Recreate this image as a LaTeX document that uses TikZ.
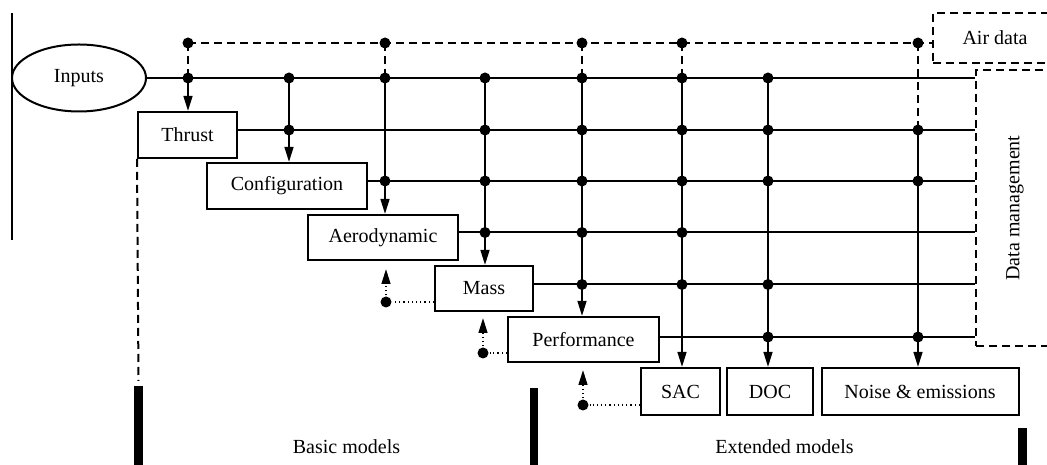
\documentclass[tikz,border=0pt]{standalone}
\usepackage{fontspec}
\setmainfont{Liberation Serif}
\usetikzlibrary{arrows.meta,shapes.geometric}
\begin{document}
\begin{tikzpicture}[x=0.5bp,y=-0.5bp,line width=1bp,
  font=\fontsize{10bp}{12bp}\selectfont,
  box/.style={draw,rectangle,inner sep=0pt},
  dot/.style={circle,fill,inner sep=0pt,minimum size=5.5bp},
  arr/.style={-{Triangle[length=7.5bp,width=4.4bp]}},
  dashline/.style={dash pattern=on 4bp off 2.5bp},
  dotline/.style={dash pattern=on 0.6bp off 1.5bp},
  bar/.style={fill=black,draw=none}]
\useasboundingbox (0,0) rectangle (1047,465);
\clip (0,0) rectangle (1047,465);

% rows and columns
\foreach \n/\y in {0/78,1/130,2/181,3/232.5,4/284.5,5/337}
  \coordinate (R\n) at (0,\y);
\coordinate (T) at (0,43);
\foreach \n/\x in {1/188,2/289,3/385,4/485,5/582,6/682,7/768,8/918}
  \coordinate (C\n) at (\x,0);

% left edge line
\draw[line width=0.6bp] (12,13) -- (12,240);

% nodes
\node[draw,ellipse,minimum width=67bp,minimum height=33.5bp,inner sep=0pt] (inputs) at (79,78) {Inputs};
\node[box,minimum width=49.5bp,minimum height=23bp] (thrust) at (187.5,135) {Thrust};
\node[box,minimum width=80bp,minimum height=23bp] (config) at (287,186) {Configuration};
\node[box,minimum width=75bp,minimum height=22.5bp] (aero) at (383,237.5) {Aerodynamic};
\node[box,minimum width=49bp,minimum height=22.5bp] (mass) at (484,288.5) {Mass};
\node[box,minimum width=75.5bp,minimum height=22.5bp] (perf) at (583.5,339.5) {Performance};
\node[box,minimum width=39.5bp,minimum height=23.5bp] (sac) at (680.5,391.5) {SAC};
\node[box,minimum width=43bp,minimum height=23.5bp] (doc) at (770,391.5) {DOC};
\node[box,minimum width=98.5bp,minimum height=23.5bp] (noise) at (920,391.5) {Noise \& emissions};
\node[box,dashline,minimum width=62bp,minimum height=25bp] (air) at (995,38) {Air data};
\node[box,dashline,minimum width=42bp,minimum height=138bp] (dm) at (1018,208) {};
\node[rotate=90] (dmtext) at (1015,208) {Data management};

% horizontal buses
\draw (inputs.east) -- (dm.west |- R0);
\draw (thrust.east |- R1) -- (dm.west |- R1);
\draw (config.east |- R2) -- (dm.west |- R2);
\draw (aero.east |- R3) -- (dm.west |- R3);
\draw (mass.east |- R4) -- (dm.west |- R4);
\draw (perf.east |- R5) -- (dm.west |- R5);

% vertical feeds
\draw[arr] (C1 |- R0) -- (C1 |- thrust.north);
\draw[arr] (C2 |- R0) -- (C2 |- config.north);
\draw[arr] (C3 |- R0) -- (C3 |- aero.north);
\draw[arr] (C4 |- R0) -- (C4 |- mass.north);
\draw[arr] (C5 |- R0) -- (C5 |- perf.north);
\draw[arr] (C6 |- R0) -- (C6 |- sac.north);
\draw[arr] (C7 |- R0) -- (C7 |- doc.north);
\draw[arr] (C8 |- R1) -- (C8 |- noise.north);

% air data lines
\draw[dashline] (C1 |- T) -- (air.west |- T);
\foreach \c in {1,3,5,6} \draw[dashline] (C\c |- T) -- (C\c |- R0);
\draw[dashline] (C8 |- T) -- (C8 |- R1);

% junction dots
\foreach \c in {1,3,5,6,8} \node[dot] at (C\c |- T) {};
\foreach \c in {1,2,3,4,5,6,7} \node[dot] at (C\c |- R0) {};
\foreach \c in {2,4,5,6,7,8} \node[dot] at (C\c |- R1) {};
\foreach \c in {3,4,5,6,7,8} \node[dot] at (C\c |- R2) {};
\foreach \c in {4,5,6} \node[dot] at (C\c |- R3) {};
\foreach \c in {5,6,7} \node[dot] at (C\c |- R4) {};
\foreach \c in {7,8} \node[dot] at (C\c |- R5) {};

% feedback (dotted)
\node[dot] (f1) at (386,302) {};
\coordinate (f1t) at (386,269);
\draw[dotline] (mass.west |- f1) -- (f1);
\draw[dotline,arr] (f1) -- (f1t);
\node[dot] (f2) at (483,353) {};
\coordinate (f2t) at (483,318);
\draw[dotline] (perf.west |- f2) -- (f2);
\draw[dotline,arr] (f2) -- (f2t);
\node[dot] (f3) at (583,405) {};
\coordinate (f3t) at (583,370);
\draw[dotline] (sac.west |- f3) -- (f3);
\draw[dotline,arr] (f3) -- (f3t);

% model separators
\coordinate (d1) at (138.5,381);
\draw[dashline] (thrust.south west) -- (d1);
\fill[bar] (134,386) rectangle (143,470);
\fill[bar] (529.5,388) rectangle (538,470);
\fill[bar] (1018,428) rectangle (1026.5,470);

\node[anchor=base] (basic) at (346.5,454) {Basic models};
\node[anchor=base] (ext) at (784.5,454) {Extended models};
\end{tikzpicture}
\end{document}
